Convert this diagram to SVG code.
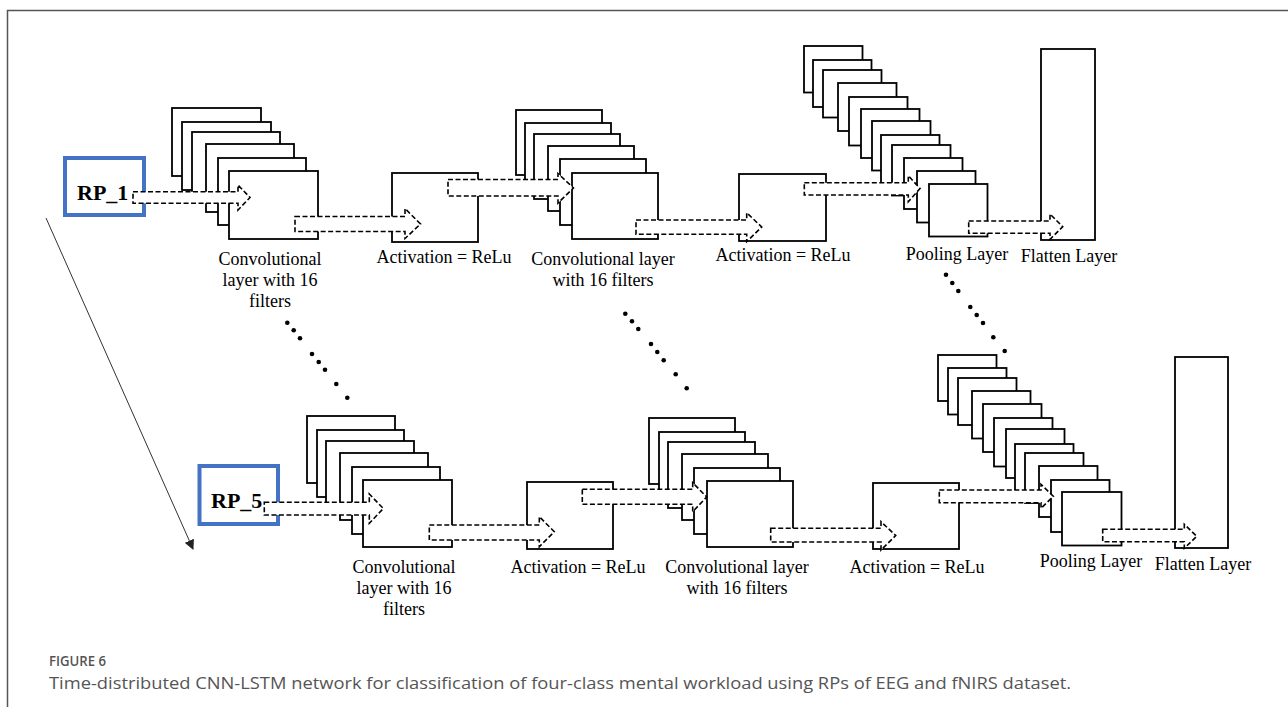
<svg xmlns="http://www.w3.org/2000/svg" width="1288" height="707" viewBox="0 0 1288 707">
<style>
.fr{fill:#fff;stroke:#000;stroke-width:1.8}
.rp{fill:#fff;stroke:#4472C4;stroke-width:4}
.rpt{font-family:"Liberation Serif","Times New Roman",serif;font-weight:bold;font-size:22px;fill:#000}
.lb{font-family:"Liberation Serif","Times New Roman",serif;font-size:18px;fill:#000;text-anchor:middle}
.ar{fill:#fff;stroke:#000;stroke-width:1.6;stroke-dasharray:5 2.5}
.dot{fill:#000}
.cap1{font-family:"Open Sans","Noto Sans",sans-serif;font-size:14px;font-weight:600;fill:#555}
.cap2{font-family:"Open Sans","Noto Sans",sans-serif;font-size:16px;fill:#555}
</style>
<defs>
<marker id="tri" viewBox="0 0 10 10" refX="9" refY="5" markerWidth="10" markerHeight="10" markerUnits="userSpaceOnUse" orient="auto">
<path d="M0,0 L10,5 L0,10 z" fill="#222"/>
</marker>
</defs>
<rect width="1288" height="707" fill="#fff"/>
<path d="M7.5,707 V10.5 H1288" fill="none" stroke="#555" stroke-width="1.5"/>

<g id="rp1"><rect class="rp" x="65" y="158" width="79" height="57"/><text class="rpt" x="77" y="200">RP_1</text></g>
<g id="conv1a">
<rect class="fr" x="172" y="108" width="89" height="68"/>
<rect class="fr" x="182" y="122" width="89" height="68"/>
<rect class="fr" x="192" y="132" width="88" height="68"/>
<rect class="fr" x="206" y="144" width="88" height="68"/>
<rect class="fr" x="218" y="158" width="88" height="67"/>
<rect class="fr" x="229" y="171" width="89" height="68"/>
<text class="lb" x="270" y="265">Convolutional</text>
<text class="lb" x="270" y="286">layer with 16</text>
<text class="lb" x="270" y="307">filters</text>
</g>
<g id="act1a"><rect class="fr" x="392" y="173" width="86" height="69"/><text class="lb" x="444" y="263">Activation = ReLu</text></g>
<g id="conv2a">
<rect class="fr" x="516" y="110" width="86" height="65"/>
<rect class="fr" x="525" y="123" width="86" height="65"/>
<rect class="fr" x="534" y="134" width="86" height="65"/>
<rect class="fr" x="548" y="146" width="86" height="65"/>
<rect class="fr" x="560" y="159" width="86" height="66"/>
<rect class="fr" x="572" y="173" width="86" height="66"/>
<text class="lb" x="603" y="265">Convolutional layer</text>
<text class="lb" x="603" y="286">with 16 filters</text>
</g>
<g id="act2a"><rect class="fr" x="739" y="174" width="87" height="67"/><text class="lb" x="783" y="261">Activation = ReLu</text></g>
<g id="poola">
<rect class="fr" x="804" y="46" width="58.5" height="46.5"/>
<rect class="fr" x="813" y="60" width="58.5" height="47"/>
<rect class="fr" x="823" y="70" width="58.5" height="47.5"/>
<rect class="fr" x="838" y="83" width="58.5" height="48"/>
<rect class="fr" x="849" y="97" width="58.5" height="48.5"/>
<rect class="fr" x="861" y="109" width="58.5" height="49"/>
<rect class="fr" x="872" y="121" width="58.5" height="49.5"/>
<rect class="fr" x="881" y="135" width="58.5" height="50"/>
<rect class="fr" x="892" y="145" width="58.5" height="50.5"/>
<rect class="fr" x="904" y="158" width="58.5" height="51"/>
<rect class="fr" x="917" y="171" width="58.5" height="51.5"/>
<rect class="fr" x="929" y="184" width="58.5" height="52.5"/>
<text class="lb" x="957" y="260">Pooling Layer</text>
</g>
<g id="flata"><rect class="fr" x="1041" y="49" width="54" height="191"/><text class="lb" x="1069" y="262">Flatten Layer</text></g>

<g id="rp5"><rect class="rp" x="199.5" y="466" width="78.5" height="58"/><text class="rpt" x="211" y="508">RP_5</text></g>
<g id="conv1b">
<rect class="fr" x="307" y="416" width="88" height="67"/>
<rect class="fr" x="317" y="430" width="87" height="67"/>
<rect class="fr" x="326" y="441" width="88" height="67"/>
<rect class="fr" x="340" y="453" width="88" height="67"/>
<rect class="fr" x="352" y="467" width="88" height="67"/>
<rect class="fr" x="363" y="480" width="89" height="67"/>
<text class="lb" x="404" y="573">Convolutional</text>
<text class="lb" x="404" y="594">layer with 16</text>
<text class="lb" x="404" y="615">filters</text>
</g>
<g id="act1b"><rect class="fr" x="527" y="482" width="86" height="67"/><text class="lb" x="578" y="573">Activation = ReLu</text></g>
<g id="conv2b">
<rect class="fr" x="649" y="418" width="86" height="66"/>
<rect class="fr" x="659" y="432" width="86" height="66"/>
<rect class="fr" x="668" y="442" width="87" height="66"/>
<rect class="fr" x="682" y="454" width="86" height="66"/>
<rect class="fr" x="694" y="468" width="86" height="66"/>
<rect class="fr" x="707" y="481" width="86" height="66"/>
<text class="lb" x="737" y="573">Convolutional layer</text>
<text class="lb" x="737" y="594">with 16 filters</text>
</g>
<g id="act2b"><rect class="fr" x="873" y="483" width="86" height="66"/><text class="lb" x="917" y="573">Activation = ReLu</text></g>
<g id="poolb">
<rect class="fr" x="938" y="355" width="58.5" height="46"/>
<rect class="fr" x="948" y="368" width="58.5" height="46.5"/>
<rect class="fr" x="958" y="378" width="58.5" height="47"/>
<rect class="fr" x="972" y="391" width="58.5" height="47.5"/>
<rect class="fr" x="983" y="404" width="58.5" height="48"/>
<rect class="fr" x="994" y="418" width="58.5" height="48.5"/>
<rect class="fr" x="1006" y="429" width="58.5" height="49"/>
<rect class="fr" x="1015" y="444" width="58.5" height="49.5"/>
<rect class="fr" x="1025" y="453" width="58.5" height="50"/>
<rect class="fr" x="1039" y="466" width="58.5" height="51"/>
<rect class="fr" x="1051" y="480" width="58.5" height="52"/>
<rect class="fr" x="1062" y="492" width="59.5" height="53.5"/>
<text class="lb" x="1091" y="567">Pooling Layer</text>
</g>
<g id="flatb"><rect class="fr" x="1175" y="357" width="53" height="191"/><text class="lb" x="1203" y="570">Flatten Layer</text></g>

<g id="dots">
<circle class="dot" cx="287.3" cy="322.7" r="2.3"/><circle class="dot" cx="293.7" cy="330.3" r="2.3"/><circle class="dot" cx="300" cy="338.3" r="2.3"/>
<circle class="dot" cx="312" cy="354" r="2.3"/><circle class="dot" cx="318.7" cy="362" r="2.3"/><circle class="dot" cx="325" cy="369.7" r="2.3"/>
<circle class="dot" cx="336.3" cy="384" r="2.3"/><circle class="dot" cx="347.3" cy="397.7" r="2.3"/>
<circle class="dot" cx="625.3" cy="313.7" r="2.3"/><circle class="dot" cx="632" cy="321.3" r="2.3"/><circle class="dot" cx="638.3" cy="329" r="2.3"/>
<circle class="dot" cx="651" cy="344" r="2.3"/><circle class="dot" cx="657.3" cy="352" r="2.3"/><circle class="dot" cx="663.7" cy="360.3" r="2.3"/>
<circle class="dot" cx="675.7" cy="374.3" r="2.3"/><circle class="dot" cx="686.7" cy="388.3" r="2.3"/>
<circle class="dot" cx="946" cy="274.7" r="2.3"/><circle class="dot" cx="952.3" cy="283" r="2.3"/><circle class="dot" cx="958.3" cy="291" r="2.3"/>
<circle class="dot" cx="970.3" cy="307" r="2.3"/><circle class="dot" cx="976.7" cy="315" r="2.3"/><circle class="dot" cx="983" cy="323" r="2.3"/>
<circle class="dot" cx="993.3" cy="337.3" r="2.3"/><circle class="dot" cx="1004.7" cy="351" r="2.3"/>
</g>

<g id="connectors">
<line x1="46" y1="218" x2="193" y2="549" stroke="#333" stroke-width="1" marker-end="url(#tri)"/>
<polygon class="ar" points="133,191.7 238,191.7 238,185 250,197.5 238,210 238,203.3 133,203.3"/>
<polygon class="ar" points="295,216.5 405,216.5 405,208.5 420.5,224 405,238.5 405,231.5 295,231.5"/>
<polygon class="ar" points="448,179.5 558,179.5 558,173.5 573.5,188 558,203 558,196 448,196"/>
<polygon class="ar" points="636,220 746.7,220 746.7,212.7 761.7,227 746.7,241.7 746.7,234.3 636,234.3"/>
<polygon class="ar" points="804.3,182.7 908.3,182.7 908.3,175.7 920,188.5 908.3,201.7 908.3,195 804.3,195"/>
<polygon class="ar" points="968.7,221 1050,221 1050,214 1062.7,226.7 1050,239.3 1050,233.3 968.7,233.3"/>
<polygon class="ar" points="264.3,502.3 369.3,502.3 369.3,494 383.3,508.5 369.3,523.3 369.3,515 264.3,515"/>
<polygon class="ar" points="429.3,525 539.3,525 539.3,516.7 554.3,531.7 539.3,546.7 539.3,540 429.3,540"/>
<polygon class="ar" points="582.3,489.3 692.7,489.3 692.7,482.7 706.7,497 692.7,511.7 692.7,504.3 582.3,504.3"/>
<polygon class="ar" points="770.7,528.3 881,528.3 881,521.7 895.7,535.5 881,550 881,542 770.7,542"/>
<polygon class="ar" points="939.3,490 1041,490 1041,484.3 1053.3,496.3 1041,508.3 1041,502.7 939.3,502.7"/>
<polygon class="ar" points="1102.7,529.3 1184.3,529.3 1184.3,524.3 1196.7,536.3 1184.3,548.3 1184.3,541.7 1102.7,541.7"/>
</g>

<g id="caption">
<text class="cap1" x="49" y="666" textLength="57" lengthAdjust="spacingAndGlyphs">FIGURE 6</text>
<text class="cap2" x="49" y="689" textLength="1022" lengthAdjust="spacingAndGlyphs">Time-distributed CNN-LSTM network for classification of four-class mental workload using RPs of EEG and fNIRS dataset.</text>
</g>
</svg>
